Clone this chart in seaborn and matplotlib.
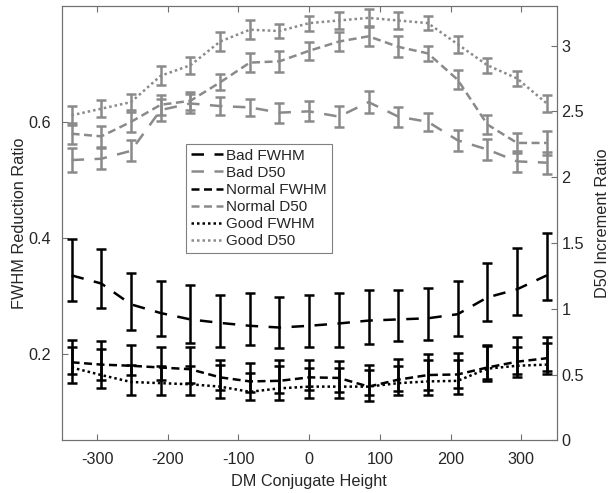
import pandas as pd
import seaborn as sns
import matplotlib.pyplot as plt

# DM conjugate heights (x positions of all series)
heights = [-336, -294, -252, -210, -168, -126, -84, -42, 0,
           42, 84, 126, 168, 210, 252, 294, 336]

# FWHM reduction ratio (left axis): centre line, upper and lower end of the error bar
bad_fwhm = [0.335, 0.321, 0.285, 0.270, 0.259, 0.253, 0.248, 0.245, 0.248,
            0.252, 0.257, 0.259, 0.261, 0.268, 0.297, 0.311, 0.335]
bad_fwhm_hi = [0.398, 0.380, 0.339, 0.326, 0.318, 0.301, 0.304, 0.298, 0.302,
               0.305, 0.310, 0.309, 0.313, 0.326, 0.357, 0.383, 0.409]
bad_fwhm_lo = [0.291, 0.279, 0.241, 0.230, 0.219, 0.211, 0.215, 0.210, 0.212,
               0.212, 0.216, 0.221, 0.223, 0.230, 0.256, 0.267, 0.293]

normal_fwhm = [0.185, 0.181, 0.179, 0.176, 0.173, 0.159, 0.152, 0.153, 0.159,
               0.158, 0.143, 0.155, 0.163, 0.164, 0.176, 0.186, 0.192]
normal_fwhm_hi = [0.223, 0.221, 0.215, 0.211, 0.212, 0.189, 0.184, 0.189, 0.189,
                  0.188, 0.181, 0.190, 0.199, 0.201, 0.215, 0.228, 0.228]
normal_fwhm_lo = [0.164, 0.155, 0.163, 0.155, 0.150, 0.137, 0.134, 0.132, 0.137,
                  0.134, 0.129, 0.136, 0.137, 0.140, 0.157, 0.164, 0.170]

good_fwhm = [0.176, 0.163, 0.151, 0.149, 0.147, 0.143, 0.134, 0.140, 0.143,
             0.143, 0.143, 0.149, 0.152, 0.153, 0.174, 0.179, 0.181]
good_fwhm_hi = [0.211, 0.208, 0.180, 0.178, 0.178, 0.181, 0.166, 0.178, 0.175,
                0.175, 0.172, 0.178, 0.189, 0.189, 0.213, 0.211, 0.218]
good_fwhm_lo = [0.149, 0.140, 0.129, 0.129, 0.129, 0.124, 0.120, 0.120, 0.123,
                0.124, 0.118, 0.129, 0.128, 0.130, 0.152, 0.160, 0.164]

# D50 increment ratio (right axis): centre and symmetric error
bad_d50 = [2.13, 2.14, 2.20, 2.51, 2.56, 2.54, 2.53, 2.49, 2.50,
           2.46, 2.57, 2.46, 2.42, 2.28, 2.21, 2.12, 2.11]
bad_d50_err = [0.089, 0.079, 0.079, 0.080, 0.070, 0.069, 0.066, 0.076, 0.076,
               0.079, 0.083, 0.076, 0.070, 0.080, 0.079, 0.080, 0.083]

normal_d50 = [2.33, 2.31, 2.42, 2.55, 2.58, 2.72, 2.87, 2.88, 2.96,
              3.03, 3.07, 2.99, 2.94, 2.74, 2.40, 2.26, 2.26]
normal_d50_err = [0.080, 0.080, 0.075, 0.075, 0.070, 0.061, 0.072, 0.081, 0.070,
                  0.074, 0.070, 0.079, 0.057, 0.072, 0.070, 0.075, 0.090]

good_d50 = [2.47, 2.52, 2.57, 2.77, 2.85, 3.03, 3.12, 3.11, 3.17,
            3.19, 3.21, 3.19, 3.17, 3.01, 2.85, 2.75, 2.56]
good_d50_err = [0.070, 0.064, 0.060, 0.073, 0.064, 0.074, 0.073, 0.056, 0.057,
                0.064, 0.064, 0.065, 0.051, 0.064, 0.057, 0.057, 0.064]

BLACK = '#000000'
GRAY = '#8a8a8a'
LONG_DASH = (0, (5.0, 4.2))
SHORT_DASH = (0, (3.2, 1.8))
DOTTED = (0, (1.0, 1.2))

sns.set_style("white")
plt.rcParams['font.family'] = ['Liberation Sans', 'DejaVu Sans']
plt.rcParams['font.size'] = 11.7
plt.rcParams['axes.unicode_minus'] = False  # plain hyphen like the original
plt.rcParams['text.color'] = '#262626'
plt.rcParams['axes.labelcolor'] = '#262626'

fig = plt.figure(figsize=(6.12, 4.93), dpi=100)
ax = fig.add_axes([0.1008, 0.1065, 0.8088, 0.8813])
ax2 = ax.twinx()

fwhm_series = [
    ('Bad FWHM', bad_fwhm, bad_fwhm_lo, bad_fwhm_hi, LONG_DASH),
    ('Normal FWHM', normal_fwhm, normal_fwhm_lo, normal_fwhm_hi, SHORT_DASH),
    ('Good FWHM', good_fwhm, good_fwhm_lo, good_fwhm_hi, DOTTED),
]
d50_series = [
    ('Bad D50', bad_d50, bad_d50_err, LONG_DASH),
    ('Normal D50', normal_d50, normal_d50_err, SHORT_DASH),
    ('Good D50', good_d50, good_d50_err, DOTTED),
]

LW = 1.8
for name, mid, lo, hi, ls in fwhm_series:
    df = pd.DataFrame({'height': heights, 'value': mid})
    sns.lineplot(data=df, x='height', y='value', ax=ax, color=BLACK,
                 linestyle=ls, linewidth=LW, label=name, legend=False)
    ax.errorbar(heights, mid,
                yerr=[[m - l for m, l in zip(mid, lo)], [h - m for m, h in zip(mid, hi)]],
                fmt='none', ecolor=BLACK, elinewidth=LW, capsize=3.3, capthick=LW)

for name, mid, err, ls in d50_series:
    df = pd.DataFrame({'height': heights, 'value': mid})
    sns.lineplot(data=df, x='height', y='value', ax=ax2, color=GRAY,
                 linestyle=ls, linewidth=LW, label=name, legend=False)
    ax2.errorbar(heights, mid, yerr=err, fmt='none', ecolor=GRAY,
                 elinewidth=LW, capsize=3.3, capthick=LW)

# axes limits and ticks
ax.set_xlim(-350, 350)
ax.set_xticks([-300, -200, -100, 0, 100, 200, 300])
ax.set_ylim(0.05, 0.8)
ax.set_yticks([0.2, 0.4, 0.6])
ax.set_yticklabels(['0.2', '0.4', '0.6'])
ax2.set_ylim(0, 3.3)
ax2.set_yticks([0, 0.5, 1, 1.5, 2, 2.5, 3])
ax2.set_yticklabels(['0', '0.5', '1', '1.5', '2', '2.5', '3'])

ax.set_xlabel('DM Conjugate Height')
ax.set_ylabel('FWHM Reduction Ratio')
ax2.set_ylabel('D50 Increment Ratio')
ax.xaxis.set_label_coords(0.5, -0.077)
ax.yaxis.set_label_coords(-0.07, 0.5)
ax2.yaxis.set_label_coords(1.078, 0.5)

tick_kw = dict(direction='in', length=4, width=0.8, color='#707070',
               labelcolor='#262626', labelsize=11.7)
ax.tick_params(axis='x', top=True, bottom=True, pad=8, **tick_kw)
ax.tick_params(axis='y', left=True, right=False, pad=8, **tick_kw)
ax2.tick_params(axis='y', right=True, left=False, pad=3.5, **tick_kw)

for a in (ax, ax2):
    for s in a.spines.values():
        s.set_color('#707070')
        s.set_linewidth(0.8)

# combined legend in the order Bad/Normal/Good, FWHM then D50
h1, l1 = ax.get_legend_handles_labels()
h2, l2 = ax2.get_legend_handles_labels()
handles, labels = [], []
for i in range(3):
    handles += [h1[i], h2[i]]
    labels += [l1[i], l2[i]]
leg = ax2.legend(handles, labels, loc='upper left', bbox_to_anchor=(0.251, 0.682),
                 fontsize=11, frameon=True, fancybox=False, framealpha=1,
                 edgecolor='#808080', borderpad=0.3, labelspacing=0.2,
                 handlelength=2.15, handletextpad=0.2, borderaxespad=0)
leg.get_frame().set_linewidth(0.8)

plt.savefig('out.png', dpi=100)
